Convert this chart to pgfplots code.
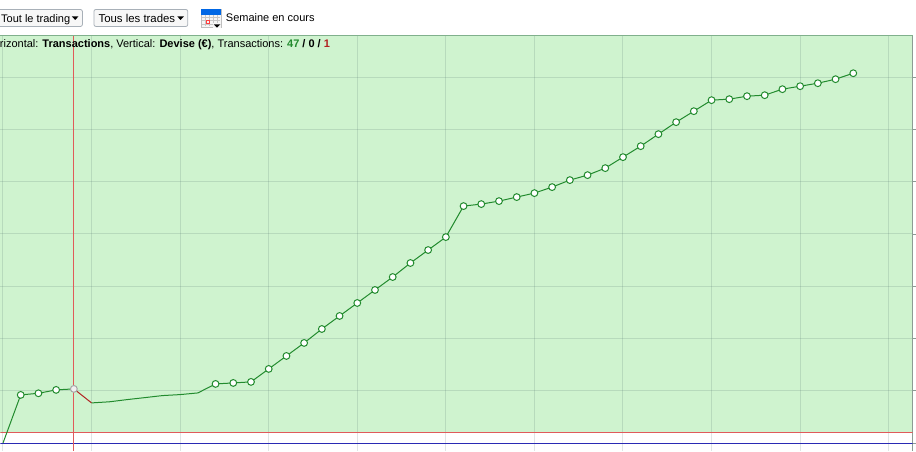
\documentclass[border=0pt]{standalone}
\usepackage{pgfplots}
\pgfplotsset{compat=1.18}
\usepackage{fontspec}
\setmainfont{Liberation Sans}
\definecolor{bgg}{HTML}{CFF3CF}
\definecolor{gridc}{RGB}{70,100,100}
\definecolor{lineg}{HTML}{228B2E}
\definecolor{liner}{HTML}{B22222}
\definecolor{crossr}{HTML}{E05A5A}
\definecolor{zerob}{HTML}{2A2AB4}
\definecolor{topb}{HTML}{80B08C}
\definecolor{rightb}{HTML}{8C9C94}
\definecolor{btn}{HTML}{A8B0B8}
\pgfplotstableread{
n v
0 0
1 92.1
2 95.2
3 101.7
4 103.6
}\seriesA
\pgfplotstableread{
n v
4 103.6
5 76.8
}\seriesB
\pgfplotstableread{
n v
5 76.8
6 78.9
7 83.1
8 86.9
9 90.8
10 92.7
11 95.9
12 113.1
13 115.0
14 117.0
15 141.8
16 166.6
17 191.5
18 218.2
19 243.1
20 267.9
21 292.8
22 317.6
23 344.4
24 369.2
25 394.0
26 453.3
27 457.1
28 462.8
29 470.5
30 478.1
31 489.6
32 503.0
33 512.5
34 525.9
35 546.9
36 567.9
37 590.9
38 613.8
39 634.8
40 655.9
41 657.8
42 663.5
43 665.4
44 676.9
45 682.6
46 688.3
47 696.0
48 707.4
}\seriesC
\pgfplotstableread{
n v
1 92.1
2 95.2
3 101.7
12 113.1
13 115.0
14 117.0
15 141.8
16 166.6
17 191.5
18 218.2
19 243.1
20 267.9
21 292.8
22 317.6
23 344.4
24 369.2
25 394.0
26 453.3
27 457.1
28 462.8
29 470.5
30 478.1
31 489.6
32 503.0
33 512.5
34 525.9
35 546.9
36 567.9
37 590.9
38 613.8
39 634.8
40 655.9
41 657.8
42 663.5
43 665.4
44 676.9
45 682.6
46 688.3
47 696.0
48 707.4
}\seriesM
\begin{document}
\begin{tikzpicture}[x=1pt,y=1pt]
\path (0,0) rectangle (916,451);
\fill[bgg] (0,18) rectangle (913,415);
\begin{axis}[
  at={(0pt,0pt)},anchor=south west,
  scale only axis,width=913pt,height=415pt,
  xmin=-0.141,xmax=51.35,ymin=-14.33,ymax=778.7,
  axis y line*=right,axis x line*=top,
  y axis line style={draw=rightb,line width=1pt},
  x axis line style={draw=topb,line width=1pt},
  xtick={0,5,...,50},ytick={0,100,...,700},
  xticklabels={},yticklabels={},
  tick label style={overlay},
  x tick style={draw=none},
  y tick style={draw=rightb,line width=0.8pt},
  tick align=outside,major tick length=3pt,
  grid=major,
  grid style={draw=gridc,draw opacity=0.17,line width=1pt},
  clip=true,
]
\draw[crossr,line width=1pt] (axis cs:-0.141,20.07) -- (axis cs:51.35,20.07);
\draw[zerob,line width=1pt] (axis cs:-0.141,0) -- (axis cs:51.35,0);
\draw[crossr,line width=1pt] (axis cs:4,-14.33) -- (axis cs:4,778.7);
\addplot[lineg,line width=1pt,no markers] table[x=n,y=v] {\seriesA};
\addplot[liner,line width=1pt,no markers] table[x=n,y=v] {\seriesB};
\addplot[lineg,line width=1pt,no markers] table[x=n,y=v] {\seriesC};
\addplot[only marks,mark=*,mark size=3.4pt,mark options={draw=lineg,fill=white,line width=1pt}] table[x=n,y=v] {\seriesM};
\addplot[only marks,mark=*,mark size=3.4pt,mark options={draw=gray!70,fill=gray!12,line width=1pt}] coordinates {(4,103.6)};
\end{axis}
% info line
\node[overlay,anchor=base east,inner sep=0pt,font=\fontsize{11}{13}\selectfont] at (330,403)
 {orizontal: \textbf{Transactions}, Vertical: \textbf{Devise (€)}, Transactions: \textbf{\textcolor{lineg}{47} / 0 / \textcolor{liner}{1}}};
% toolbar
\draw[overlay,btn,fill=gray!6,rounded corners=2pt,line width=0.8pt] (-6,424.5) rectangle (82,441.5);
\node[anchor=base west,inner sep=0pt,font=\fontsize{11}{14}\selectfont] at (0.5,428.5) {Tout le trading};
\fill (71.5,434.5) -- (78,434.5) -- (74.75,431) -- cycle;
\draw[btn,fill=gray!6,rounded corners=2pt,line width=0.8pt] (93.5,424.5) rectangle (187.5,441.5);
\node[anchor=base west,inner sep=0pt,font=\fontsize{11.4}{14}\selectfont] at (98,428.5) {Tous les trades};
\fill (177,434.5) -- (183.5,434.5) -- (180.25,431) -- cycle;
% calendar icon
\fill[gray!8] (201,424) rectangle (220.5,442);
\draw[gray!50,line width=0.5pt] (201,424) rectangle (220.5,442);
\fill[blue!55!cyan!90!black] (201,436) rectangle (220.5,442);
\foreach \gx in {205,209,213,217}{\draw[gray!45,line width=0.4pt] (\gx,425) -- (\gx,435.5);}
\foreach \gy in {427,431,434}{\draw[gray!45,line width=0.4pt] (202,\gy) -- (220,\gy);}
\draw[red!75,line width=0.8pt] (206,428) rectangle (209.5,431);
\fill[gray!8] (213,423) rectangle (221,427.5);
\fill[black] (213.5,426.5) -- (220,426.5) -- (216.75,423.3) -- cycle;
\node[anchor=base west,inner sep=0pt,font=\fontsize{11}{13}\selectfont] at (225.5,429) {Semaine en cours};
\end{tikzpicture}
\end{document}
